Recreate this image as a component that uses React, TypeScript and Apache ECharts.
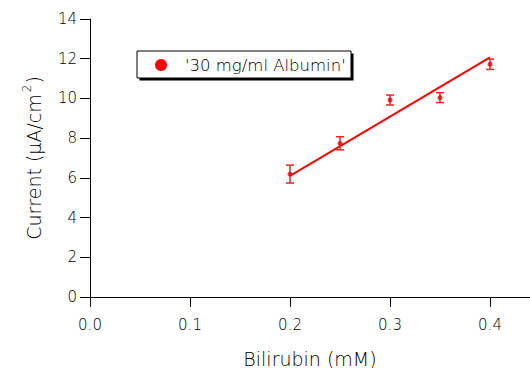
import React, { useEffect, useRef } from "react";
import * as echarts from "echarts";

const seriesName = "'30 mg/ml Albumin'";
const bilirubin = [0.2, 0.25, 0.3, 0.35, 0.4];
const current = [6.19, 7.74, 9.92, 10.04, 11.72];
const errors = [0.45, 0.33, 0.25, 0.25, 0.26];
const fitX = [0.2, 0.4];
const fitY = [6.1, 12.07];
const xTicks = [0, 0.1, 0.2, 0.3, 0.4];

const FONT = "DejaVu Sans";
const W = 200;
const TXT = "#000";

export default function App() {
  const ref = useRef<HTMLDivElement>(null);
  useEffect(() => {
    if (!ref.current) return;
    const chart = echarts.init(ref.current, null, { renderer: "svg" });
    const errData = bilirubin.map((x, i) => [x, current[i] - errors[i], current[i] + errors[i]]);
    chart.setOption({
      animation: false,
      backgroundColor: "#fff",
      textStyle: { fontFamily: FONT },
      grid: { left: 90, right: 0, top: 19, bottom: 71, containLabel: false, outerBoundsMode: "none" },
      xAxis: {
        type: "value",
        min: 0,
        max: 0.44,
        interval: 0.1,
        name: "Bilirubin (mM)",
        nameLocation: "middle",
        nameGap: 52,
        nameTextStyle: { fontFamily: FONT, fontSize: 19, fontWeight: W, color: TXT },
        axisLine: { show: true, onZero: false, lineStyle: { color: "#000", width: 1 } },
        axisTick: { show: true, inside: false, length: 10, lineStyle: { color: "#000" } },
        axisLabel: {
          showMaxLabel: false,
          margin: 20,
          fontSize: 15,
          fontWeight: W,
          fontFamily: FONT,
          color: TXT,
          formatter: (v: number) => (xTicks.some((t) => Math.abs(t - v) < 1e-9) ? v.toFixed(1) : ""),
        },
        splitLine: { show: false },
      },
      yAxis: {
        type: "value",
        min: 0,
        max: 14,
        interval: 2,
        name: "{a|Current (µA/cm}{s|2}{a|)}",
        nameLocation: "middle",
        nameGap: 43,
        nameRotate: 90,
        nameTextStyle: {
          fontFamily: FONT,
          color: TXT,
          rich: {
            a: { fontSize: 19, fontWeight: W, fontFamily: FONT, color: TXT },
            s: { fontSize: 12, fontWeight: W, fontFamily: FONT, color: TXT, verticalAlign: "top", padding: [0, 1, 14, 2] },
          },
        },
        axisLine: { show: true, onZero: false, lineStyle: { color: "#000", width: 1 } },
        axisTick: { show: true, inside: false, length: 10, lineStyle: { color: "#000" } },
        axisLabel: { margin: 13, fontSize: 15, fontWeight: W, fontFamily: FONT, color: TXT },
        splitLine: { show: false },
      },
      series: [
        {
          name: "fit",
          type: "line",
          data: fitX.map((x, i) => [x, fitY[i]]),
          symbol: "none",
          lineStyle: { color: "#ff0000", width: 2 },
          z: 2,
        },
        {
          name: "err",
          type: "custom",
          data: errData,
          z: 3,
          renderItem: (params: any, api: any) => {
            const x = api.value(0);
            const lo = api.coord([x, api.value(1)]);
            const hi = api.coord([x, api.value(2)]);
            const w = 4;
            const style = { stroke: "#ff2020", lineWidth: 1.5 };
            return {
              type: "group",
              children: [
                { type: "line", shape: { x1: lo[0], y1: lo[1], x2: hi[0], y2: hi[1] }, style },
                { type: "line", shape: { x1: lo[0] - w, y1: lo[1], x2: lo[0] + w, y2: lo[1] }, style },
                { type: "line", shape: { x1: hi[0] - w, y1: hi[1], x2: hi[0] + w, y2: hi[1] }, style },
              ],
            };
          },
        },
        {
          name: seriesName,
          type: "scatter",
          data: bilirubin.map((x, i) => [x, current[i]]),
          symbol: "circle",
          symbolSize: 5,
          itemStyle: { color: "#ff0000" },
          z: 4,
        },
      ],
      graphic: [
        { type: "rect", shape: { x: 139.5, y: 53.5, width: 214, height: 27 }, style: { fill: "#000" }, z: 10 },
        {
          type: "rect",
          shape: { x: 137, y: 51, width: 214, height: 27 },
          style: { fill: "#fff", stroke: "#000", lineWidth: 1 },
          z: 11,
        },
        { type: "circle", shape: { cx: 161, cy: 65, r: 6 }, style: { fill: "#ff0000" }, z: 12 },
        {
          type: "text",
          x: 185,
          y: 65,
          style: { text: seriesName, fontFamily: FONT, fontSize: 16.5, fontWeight: W, fill: TXT, verticalAlign: "middle" },
          z: 12,
        },
      ],
    });
    return () => chart.dispose();
  }, []);
  return <div ref={ref} style={{ width: 530, height: 368, position: "absolute", left: 0, top: 0 }} />;
}
